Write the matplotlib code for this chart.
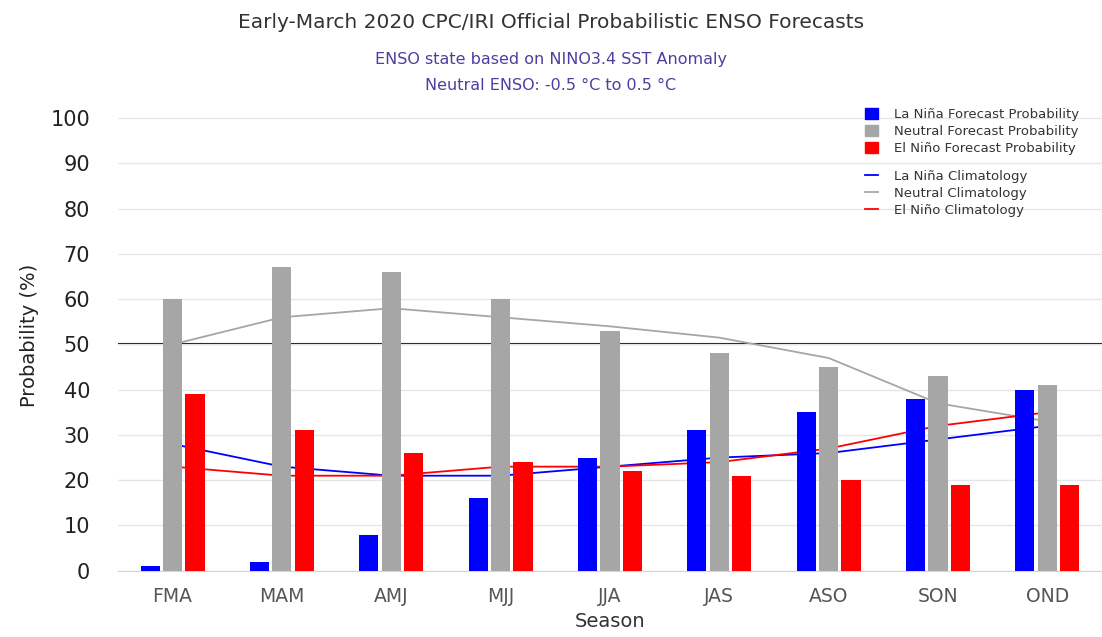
import numpy as np
import matplotlib.pyplot as plt
from matplotlib.patches import Patch
from matplotlib.lines import Line2D

plt.rcParams['font.family'] = ['DejaVu Sans']

seasons = ['FMA', 'MAM', 'AMJ', 'MJJ', 'JJA', 'JAS', 'ASO', 'SON', 'OND']
la_nina = [1, 2, 8, 16, 25, 31, 35, 38, 40]
neutral = [60, 67, 66, 60, 53, 48, 45, 43, 41]
el_nino = [39, 31, 26, 24, 22, 21, 20, 19, 19]

la_nina_clim = [28, 23, 21, 21, 23, 25, 26, 29, 32]
neutral_clim = [50, 56, 58, 56, 54, 51.5, 47, 37, 33]
el_nino_clim = [23, 21, 21, 23, 23, 24, 27, 32, 35]

x = np.arange(len(seasons))
w = 0.175
off = 0.205

fig = plt.figure(figsize=(11.02, 6.37), dpi=100)
ax = fig.add_axes([0.107, 0.104, 0.893, 0.739])

# bars sit on top of the climatology lines, like the original
ax.bar(x - off, la_nina, w, color='#0000ff', zorder=3)
ax.bar(x, neutral, w, color='#a6a6a6', zorder=3)
ax.bar(x + off, el_nino, w, color='#ff0000', zorder=3)

ax.plot(x, la_nina_clim, color='#0000ff', lw=1.3, zorder=2)
ax.plot(x, neutral_clim, color='#a6a6a6', lw=1.3, zorder=2)
ax.plot(x, el_nino_clim, color='#ff0000', lw=1.3, zorder=2)

ax.axhline(50, color='black', lw=1.5, zorder=1)

ax.set_xlim(-0.5, 8.5)
ax.set_ylim(0, 104)
ax.set_yticks(range(0, 101, 10))
ax.set_xticks(x)
ax.set_xticklabels(seasons, color='#555555', fontsize=13.5)
ax.tick_params(axis='y', labelsize=15, length=0, pad=20, colors='#222222')
ax.tick_params(axis='x', length=0, pad=12)
ax.grid(axis='y', color='#e6e6e6', lw=1, zorder=0)
for s in ['top', 'right', 'left']:
    ax.spines[s].set_visible(False)
ax.spines['bottom'].set_color('#ccd6eb')

ax.set_ylabel('Probability (%)', fontsize=14, color='#222222', labelpad=8)
ax.set_xlabel('Season', fontsize=14, color='#333333', labelpad=4)

fig.text(0.5, 0.965, 'Early-March 2020 CPC/IRI Official Probabilistic ENSO Forecasts',
         ha='center', va='center', fontsize=14.5, color='#333333')
fig.text(0.5, 0.907, 'ENSO state based on NINO3.4 SST Anomaly',
         ha='center', va='center', fontsize=11.5, color='#4b3fa0')
fig.text(0.5, 0.866, 'Neutral ENSO: -0.5 °C to 0.5 °C',
         ha='center', va='center', fontsize=11.5, color='#4b3fa0')

bar_handles = [Patch(color='#0000ff'), Patch(color='#a6a6a6'), Patch(color='#ff0000')]
bar_labels = ['La Niña Forecast Probability', 'Neutral Forecast Probability',
              'El Niño Forecast Probability']
line_handles = [Line2D([], [], color=c, lw=1.3) for c in ['#0000ff', '#a6a6a6', '#ff0000']]
line_labels = ['La Niña Climatology', 'Neutral Climatology', 'El Niño Climatology']

common = dict(loc='upper left', frameon=False, fontsize=9.5, handlelength=1.0,
              handleheight=0.9, labelspacing=0.3, handletextpad=1.2,
              labelcolor='#333333', borderaxespad=0)
leg1 = fig.legend(bar_handles, bar_labels, bbox_to_anchor=(0.78, 0.839), **common)
leg2 = fig.legend(line_handles, line_labels, bbox_to_anchor=(0.78, 0.742), **common)

fig.savefig('out.png', dpi=100)
